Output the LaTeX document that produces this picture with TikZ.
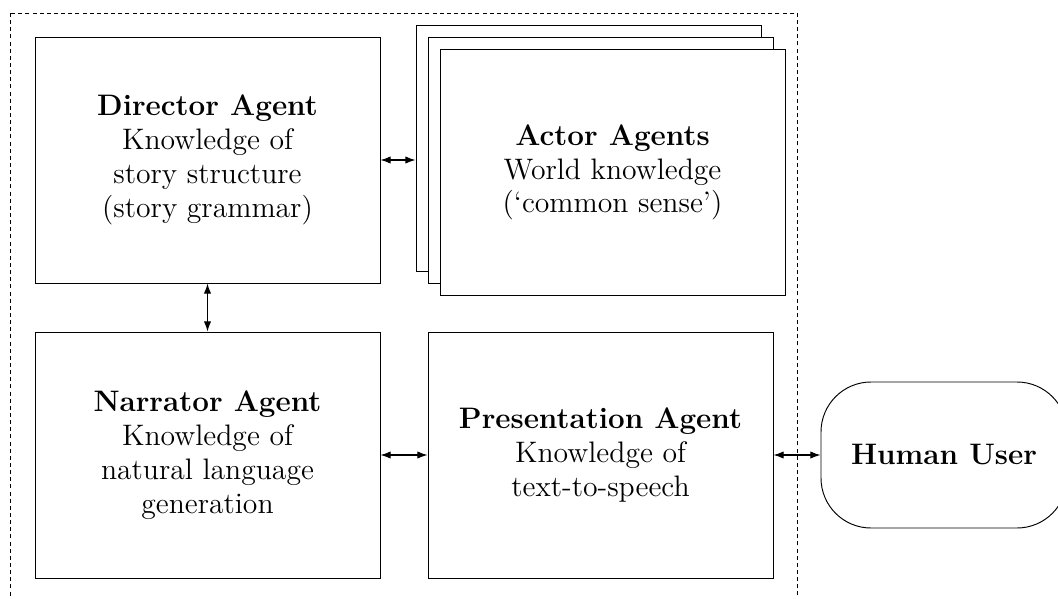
\documentclass[tikz,border=0pt]{standalone}
\usetikzlibrary{arrows.meta}
\begin{document}
\def\px{0.42pt}
\begin{tikzpicture}[x=\px,y=-\px,
  every node/.style={font=\fontsize{12.45}{14.2}\selectfont, align=center, inner sep=0pt},
  agent/.style={draw, line width=0.4pt, fill=white, minimum width={345*\px}, minimum height={246*\px}},
  user/.style={draw, line width=0.4pt, rounded corners={50*\px}, minimum width={246*\px}, minimum height={146*\px}},
  link/.style={line width=0.45pt, {Latex[length=4.3pt,width=3.1pt]}-{Latex[length=4.3pt,width=3.1pt]}},
  frame/.style={line width=0.4pt, dash pattern=on 1.7pt off 1.3pt}]
\useasboundingbox (0,0) rectangle (1058,599);

% enclosing system boundary
\draw[frame] (10,13) rectangle (797,700);

% agent boxes
\node[agent] (director) at (207.5,160) {\textbf{Director Agent}\\Knowledge of\\story structure\\(story grammar)};
\node[agent] (actorback) at (588.5,148.5) {};
\node[agent] (actormid) at (600.5,160.5) {};
\node[agent] (actor) at (612.5,172.5) {\textbf{Actor Agents}\\World knowledge\\(`common sense')};
\node[agent] (narrator) at (207.5,455) {\textbf{Narrator Agent}\\Knowledge of\\natural language\\generation};
\node[agent] (presentation) at (600.5,455) {\textbf{Presentation Agent}\\Knowledge of\\text-to-speech};
\node[user] (human) at (944,455) {\textbf{Human User}};

% connectors
\draw[link] (director.east) -- (director.east -| actorback.west);
\draw[link] (director.south) -- (narrator.north);
\draw[link] (narrator.east) -- (presentation.west);
\draw[link] (presentation.east) -- (human.west);
\end{tikzpicture}
\end{document}
